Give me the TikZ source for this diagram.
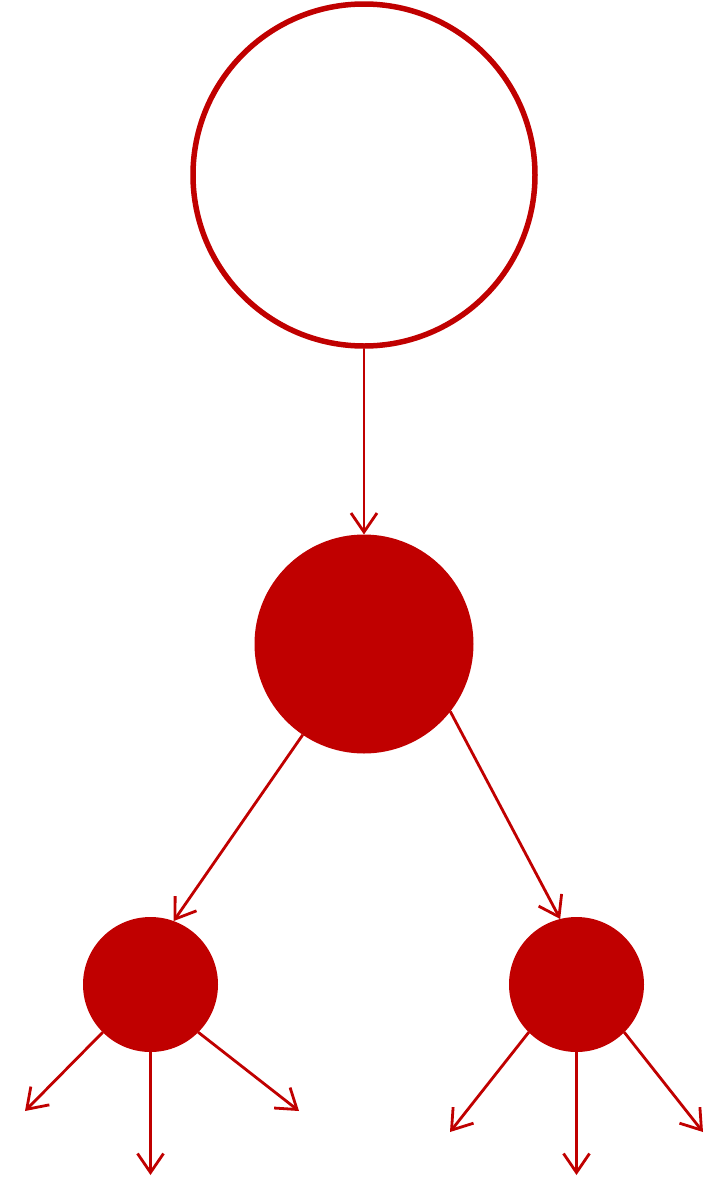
\documentclass[tikz,border=0pt]{standalone}
\usetikzlibrary{arrows.meta}
\definecolor{deepred}{RGB}{192,0,0}
\begin{document}
\begin{tikzpicture}[x=1pt,y=-1pt,
  ring/.style={circle,draw=deepred,line width=5.5pt,inner sep=0pt,minimum size=#1},
  dot/.style={circle,fill=deepred,inner sep=0pt,outer sep=0pt,minimum size=#1},
  link/.style={draw=deepred,line width=2.8pt,-{Straight Barb[length=19pt,width=26pt,line width=2.8pt]}}]
\useasboundingbox (0,0) rectangle (727,1200);
\node[ring=342pt] (top) at (364,175) {};
\node[dot=219pt] (mid) at (364,644) {};
\node[dot=135pt] (lt) at (150.5,984.5) {};
\node[dot=135pt] (rt) at (576.5,984.5) {};
\coordinate (l1) at (25,1111);
\coordinate (l2) at (150.5,1175);
\coordinate (l3) at (299,1111);
\coordinate (r1) at (450,1132);
\coordinate (r2) at (576.5,1175);
\coordinate (r3) at (703,1132);
\path[link] (top) -- (mid);
\path[link] (mid.236) -- (lt.70);
\path[link] (mid.-38) -- (rt.104);
\path[link] (lt.225) -- (l1);
\path[link] (lt.-90) -- (l2);
\path[link] (lt.-45) -- (l3);
\path[link] (rt.225) -- (r1);
\path[link] (rt.-90) -- (r2);
\path[link] (rt.-45) -- (r3);
\end{tikzpicture}
\end{document}
